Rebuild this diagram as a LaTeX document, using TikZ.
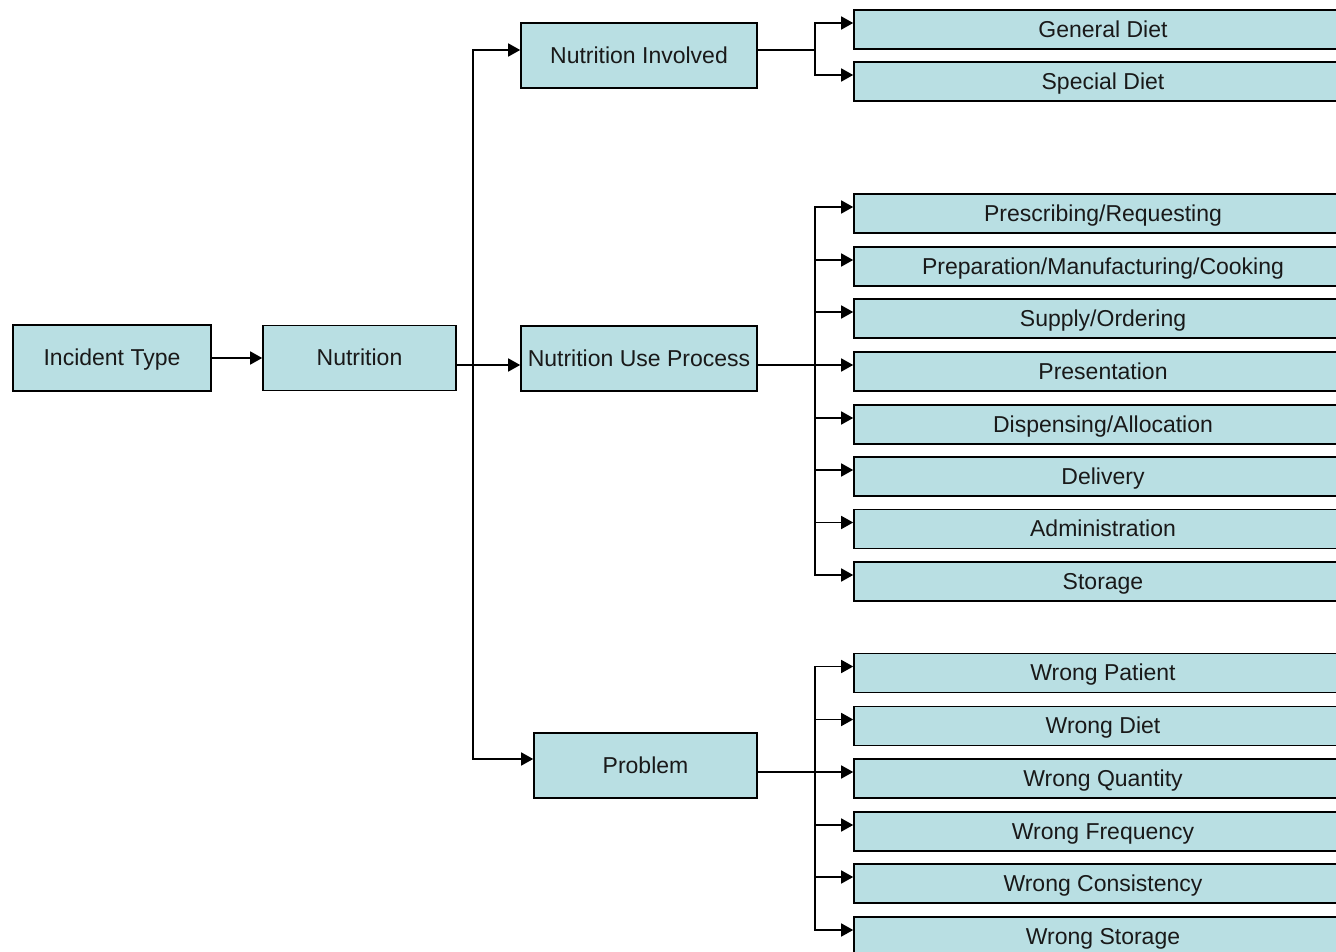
\documentclass[tikz,border=0pt]{standalone}
\usepackage{fontspec}
\setmainfont{Liberation Sans}
\usetikzlibrary{arrows.meta}
\definecolor{boxc}{RGB}{185,223,227}
\tikzset{
  x=1pt, y=-1pt,
  box/.style={draw=black, fill=boxc, line width=1.6pt, inner sep=0pt,
    font=\fontsize{23}{27}\selectfont, text=black!90,
    text height=15.5pt, text depth=0pt},
  leaf/.style={box, minimum width=498pt, minimum height=39pt},
  conn/.style={draw=black, line width=1.6pt},
  arr/.style={conn, -{Triangle[length=12pt,width=13pt]}}
}
\begin{document}
\begin{tikzpicture}
\clip (0,0) rectangle (1336,952);
\fill[white] (0,0) rectangle (1336,952);
% main nodes
\node[box, minimum width=198pt, minimum height=66pt] (it) at (112,358) {Incident Type};
\node[box, minimum width=193pt, minimum height=65pt] (nu) at (359.5,358) {Nutrition};
\node[box, minimum width=236pt, minimum height=65pt] (ni) at (639,55.5) {Nutrition Involved};
\node[box, minimum width=236pt, minimum height=65pt] (nup) at (639,358.5) {Nutrition Use Process};
\node[box, minimum width=223pt, minimum height=65pt] (pr) at (645.5,765.5) {Problem};
% leaves
\node[leaf] (gd) at (1103,29.5) {General Diet};
\node[leaf] (sd) at (1103,81.5) {Special Diet};
\node[leaf] (prs) at (1103,213.5) {Prescribing/Requesting};
\node[leaf] (pmc) at (1103,266.5) {Preparation/Manufacturing/Cooking};
\node[leaf] (so) at (1103,318.5) {Supply/Ordering};
\node[leaf] (pre) at (1103,371.5) {Presentation};
\node[leaf] (da) at (1103,424.5) {Dispensing/Allocation};
\node[leaf] (del) at (1103,476.5) {Delivery};
\node[leaf] (adm) at (1103,529) {Administration};
\node[leaf] (sto) at (1103,581.5) {Storage};
\node[leaf] (wp) at (1103,673) {Wrong Patient};
\node[leaf] (wd) at (1103,726) {Wrong Diet};
\node[leaf] (wq) at (1103,778.5) {Wrong Quantity};
\node[leaf] (wf) at (1103,831.5) {Wrong Frequency};
\node[leaf] (wc) at (1103,883.5) {Wrong Consistency};
\node[leaf] (ws) at (1103,936.5) {Wrong Storage};
% branch points
\coordinate (t) at (473,365);
\coordinate (b1) at (815,50);
\coordinate (b2) at (815,365);
\coordinate (b3) at (815,772);
% connectors
\draw[arr] (it) -- (nu);
\draw[conn] ([yshift=-7pt]nu.east) -- (t);
\draw[arr] (t) |- ([yshift=5.5pt]ni.west);
\draw[arr] (t) -- ([yshift=-6.5pt]nup.west);
\draw[arr] (t) |- ([yshift=6.5pt]pr.west);
\draw[conn] ([yshift=5.5pt]ni.east) -- (b1);
\draw[conn] ([yshift=-6.5pt]nup.east) -- (b2);
\draw[conn] ([yshift=-6.5pt]pr.east) -- (b3);
\foreach \n in {gd,sd} \draw[arr] (b1) |- ([yshift=6.5pt]\n.west);
\foreach \n in {prs,pmc,so,pre,da,del,adm,sto} \draw[arr] (b2) |- ([yshift=6.5pt]\n.west);
\foreach \n in {wp,wd,wq,wf,wc,ws} \draw[arr] (b3) |- ([yshift=6.5pt]\n.west);
\end{tikzpicture}
\end{document}
